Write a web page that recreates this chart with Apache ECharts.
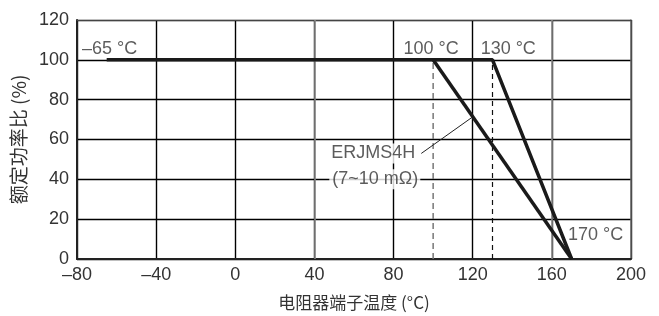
<!DOCTYPE html>
<html>
<head>
<meta charset="utf-8">
<script src="https://cdn.jsdelivr.net/npm/echarts@6/dist/echarts.min.js"></script>
<style>
  html, body { margin: 0; padding: 0; background: #fff; }
  #chart { width: 659px; height: 316px; }
</style>
</head>
<body>
<div id="chart"></div>
<script>
// derating curves (temperature °C, rated power %)
const curveWide = [[-65, 100], [130, 100], [170, 0]];
const curveNarrow = [[100, 100], [170, 0]];
const guide100 = [[100, 0], [100, 100]];
const guide130 = [[130, 0], [130, 100]];
const leader = [[94, 53], [119.5, 71]];

// annotations: [x, y, text] (left edge, vertical middle)
const tempLabels = [
  [-77.5, 105.5, '\u201365 °C'],
  [85, 105.5, '100 °C'],
  [124, 105.5, '130 °C'],
  [168.2, 12, '170 °C']
];
// right edge, vertical middle
const modelLabel = [[92, 53, 'ERJMS4H'], [93.5, 40, '(7~10 mΩ)']];

const xTicks = [-80, -40, 0, 40, 80, 120, 160, 200];
const yTicks = [0, 20, 40, 60, 80, 100, 120];
const greyLines = [40, 160];

const chart = echarts.init(document.getElementById('chart'));
const font = 'Liberation Sans, Arial, sans-serif';
const cjk = '"Noto Sans CJK SC", sans-serif';
const dark = '#1a1a1a';

chart.setOption({
  animation: false,
  grid: { left: 77, right: 28, top: 20, bottom: 56 },
  xAxis: [{
    type: 'value', min: xTicks[0], max: xTicks[xTicks.length - 1], interval: 40,
    axisLine: { show: true, onZero: false, lineStyle: { color: '#222', width: 2 } },
    axisTick: { show: false },
    axisLabel: { color: '#333', fontSize: 18, fontFamily: font, margin: 7,
      formatter: v => (v < 0 ? '\u2013' + Math.abs(v) : String(v)) },
    splitLine: { show: true, lineStyle: { width: 1.4, color: '#000' } },
    name: '电阻器端子温度 (°C)', nameLocation: 'middle', nameGap: 35,
    nameTextStyle: { color: '#333', fontSize: 17, fontFamily: cjk }
  }, {
    type: 'value', position: 'top', min: xTicks[0], max: xTicks[xTicks.length - 1],
    axisLine: { show: true, onZero: false, lineStyle: { color: '#444', width: 1 } },
    axisTick: { show: false }, axisLabel: { show: false }, splitLine: { show: false }
  }],
  yAxis: [{
    type: 'value', min: yTicks[0], max: yTicks[yTicks.length - 1], interval: 20,
    axisLine: { show: true, onZero: false, lineStyle: { color: '#222', width: 2 } },
    axisTick: { show: false },
    axisLabel: { color: '#333', fontSize: 18, fontFamily: font, margin: 8 },
    splitLine: { show: true, lineStyle: { color: '#000', width: 1.4 } },
    name: '额定功率比 (%)', nameLocation: 'middle', nameGap: 46,
    nameTextStyle: { color: '#333', fontSize: 19, fontFamily: cjk }
  }, {
    type: 'value', position: 'right', min: yTicks[0], max: yTicks[yTicks.length - 1],
    axisLine: { show: true, onZero: false, lineStyle: { color: '#666', width: 1.5 } },
    axisTick: { show: false }, axisLabel: { show: false }, splitLine: { show: false }
  }],
  series: [
    { type: 'line', data: guide100, symbol: 'none', z: 3,
      lineStyle: { color: '#777', width: 1.5, type: [6, 4] },
      markLine: { silent: true, symbol: 'none', label: { show: false },
        lineStyle: { color: '#8a8a8a', width: 1.6, type: 'solid' },
        data: greyLines.map(v => ({ xAxis: v })) } },
    { type: 'line', data: guide130, symbol: 'none', z: 3,
      lineStyle: { color: '#111', width: 1.2, type: [5, 4] } },
    { type: 'line', data: leader, symbol: 'none', z: 3,
      lineStyle: { color: '#222', width: 1 } },
    { type: 'line', data: curveWide, symbol: 'none', z: 5,
      lineStyle: { color: dark, width: 3.5 } },
    { type: 'line', data: curveNarrow, symbol: 'none', z: 5,
      lineStyle: { color: dark, width: 3.5 } },
    { type: 'scatter', symbolSize: 0, z: 6,
      data: tempLabels.map(d => ({ value: [d[0], d[1]], label: { formatter: d[2] } })),
      label: { show: true, position: [0, 0], align: 'left', verticalAlign: 'middle',
        color: '#333', fontSize: 18, fontFamily: font } },
    { type: 'scatter', symbolSize: 0, z: 6,
      data: modelLabel.map(d => ({ value: [d[0], d[1]], label: { formatter: d[2] } })),
      label: { show: true, position: [0, 0], align: 'right', verticalAlign: 'middle',
        color: '#333', fontSize: 18, fontFamily: font,
        backgroundColor: '#fff', padding: [1, 2, 1, 3] } }
  ]
});
</script>
</body>
</html>
